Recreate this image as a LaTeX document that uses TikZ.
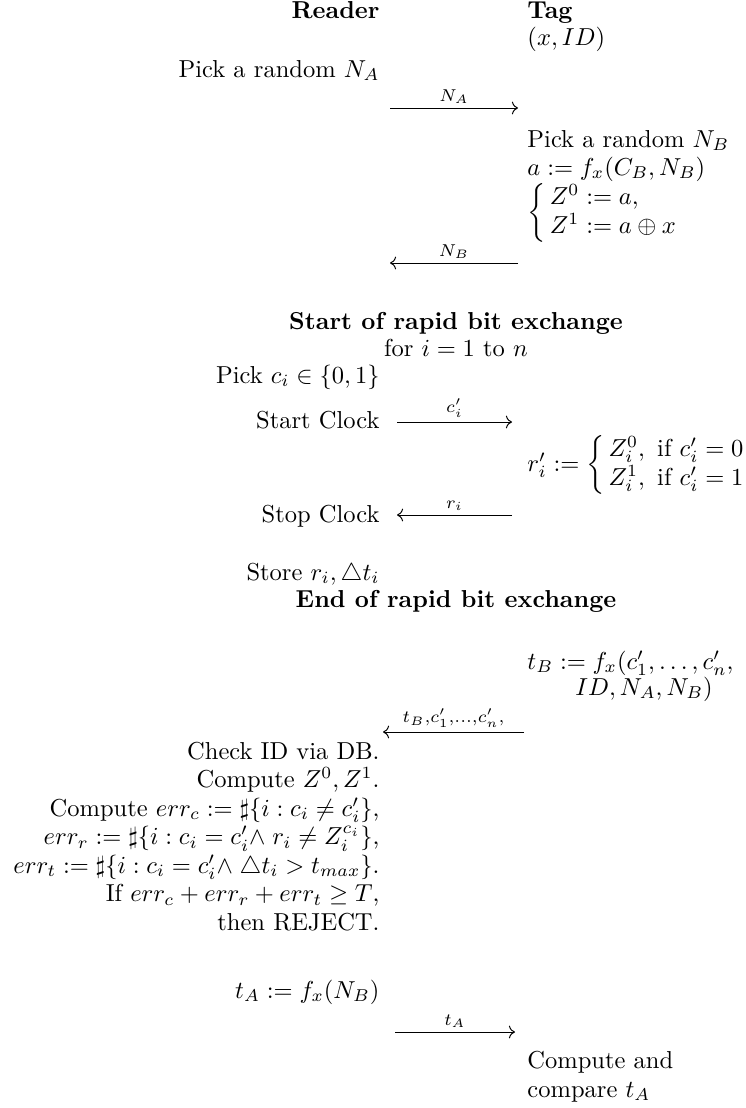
\documentclass[tikz,border=0pt]{standalone}
\usepackage{amsmath,amssymb}
\usetikzlibrary{arrows.meta}

\begin{document}
\begin{tikzpicture}[x=0.408pt, y=-0.408pt, >=To,
  every node/.style={inner sep=0pt},
  reader/.style={anchor=base east},
  tag/.style={anchor=base west},
  phase/.style={anchor=base, font=\bfseries},
  msg/.style={->, line width=0.4pt},
  msglabel/.style={above=1.5pt}]
\useasboundingbox (0,0) rectangle (746,1108);

% Header
\node[reader, font=\bfseries] (reader) at (380,18) {Reader};
\node[tag, font=\bfseries] (tag) at (527,18) {Tag};
\node[tag] (secret) at (527,46) {$(x, ID)$};

% Nonce exchange
\node[reader] (pickna) at (380,77) {Pick a random $N_A$};
\coordinate (na-l) at (390,108);
\coordinate (na-r) at (518,108);
\node[tag] (picknb) at (527,147) {Pick a random $N_B$};
\node[tag] (adef) at (527,175) {$a := f_x(C_B, N_B)$};
\node[tag] (zdef) at (527,219) {$\left\{\begin{array}{@{\,}l@{}} Z^0 := a,\\ Z^1 := a \oplus x \end{array}\right.$};
\coordinate (nb-l) at (390,263);
\coordinate (nb-r) at (518,263);

% Rapid bit exchange
\node[phase] (rbestart) at (456,329) {Start of rapid bit exchange};
\node[anchor=base] (loop) at (456,356) {for $i = 1$ to $n$};
\node[reader] (pickc) at (380,383) {Pick $c_i \in \{0,1\}$};
\node[reader] (startclk) at (380,428) {Start Clock};
\coordinate (c-l) at (397,422);
\coordinate (c-r) at (512,422);
\node[tag] (rdef) at (527,471) {$r_i' := \left\{\begin{array}{@{\,}l@{}} Z_i^0,\ \text{if}\ c_i' = 0\\ Z_i^1,\ \text{if}\ c_i' = 1 \end{array}\right.$};
\node[reader] (stopclk) at (380,522) {Stop Clock};
\coordinate (r-l) at (397,515);
\coordinate (r-r) at (512,515);
\node[reader] (store) at (380,580) {Store $r_i, \triangle t_i$};
\node[phase] (rbeend) at (456,607) {End of rapid bit exchange};

% Tag response
\node[tag] (tbdef) at (527,669) {$t_B := f_x(c'_1, \ldots, c'_n,$};
\node[tag] (tbargs) at (575,695) {$ID, N_A, N_B)$};
\coordinate (tb-l) at (383,732);
\coordinate (tb-r) at (524,732);

% Verification at the reader (base = last line)
\node[reader, align=right, font=\fontsize{10pt}{11.6pt}\selectfont] (verify) at (380,930) {Check ID via DB.\\
  Compute $Z^0, Z^1$.\\
  Compute $err_c := \sharp\{i : c_i \neq c_i'\}$,\\
  $err_r := \sharp\{i : c_i = c_i'{\wedge}\; r_i \neq Z_i^{c_i}\}$,\\
  $err_t := \sharp\{i : c_i = c_i'{\wedge}\; \triangle t_i > t_{max}\}$.\\
  If $err_c + err_r + err_t \geq T$,\\
  then REJECT.};
\node[reader] (tadef) at (380,998) {$t_A := f_x(N_B)$};
\coordinate (ta-l) at (395,1032);
\coordinate (ta-r) at (515,1032);
\node[tag, align=left, font=\fontsize{10pt}{11.6pt}\selectfont] (compare) at (527,1097) {Compute and\\ compare $t_A$};

% Messages
\draw[msg] (na-l) -- node[msglabel] {$\scriptstyle N_A$} (na-r);
\draw[msg] (nb-r) -- node[msglabel] {$\scriptstyle N_B$} (nb-l);
\draw[msg] (c-l) -- node[msglabel] {$\scriptstyle c_i'$} (c-r);
\draw[msg] (r-r) -- node[msglabel] {$\scriptstyle r_i$} (r-l);
\draw[msg] (tb-r) -- node[msglabel] {$\scriptstyle t_B,c'_1,\ldots,c'_n,$} (tb-l);
\draw[msg] (ta-l) -- node[msglabel] {$\scriptstyle t_A$} (ta-r);
\end{tikzpicture}
\end{document}
